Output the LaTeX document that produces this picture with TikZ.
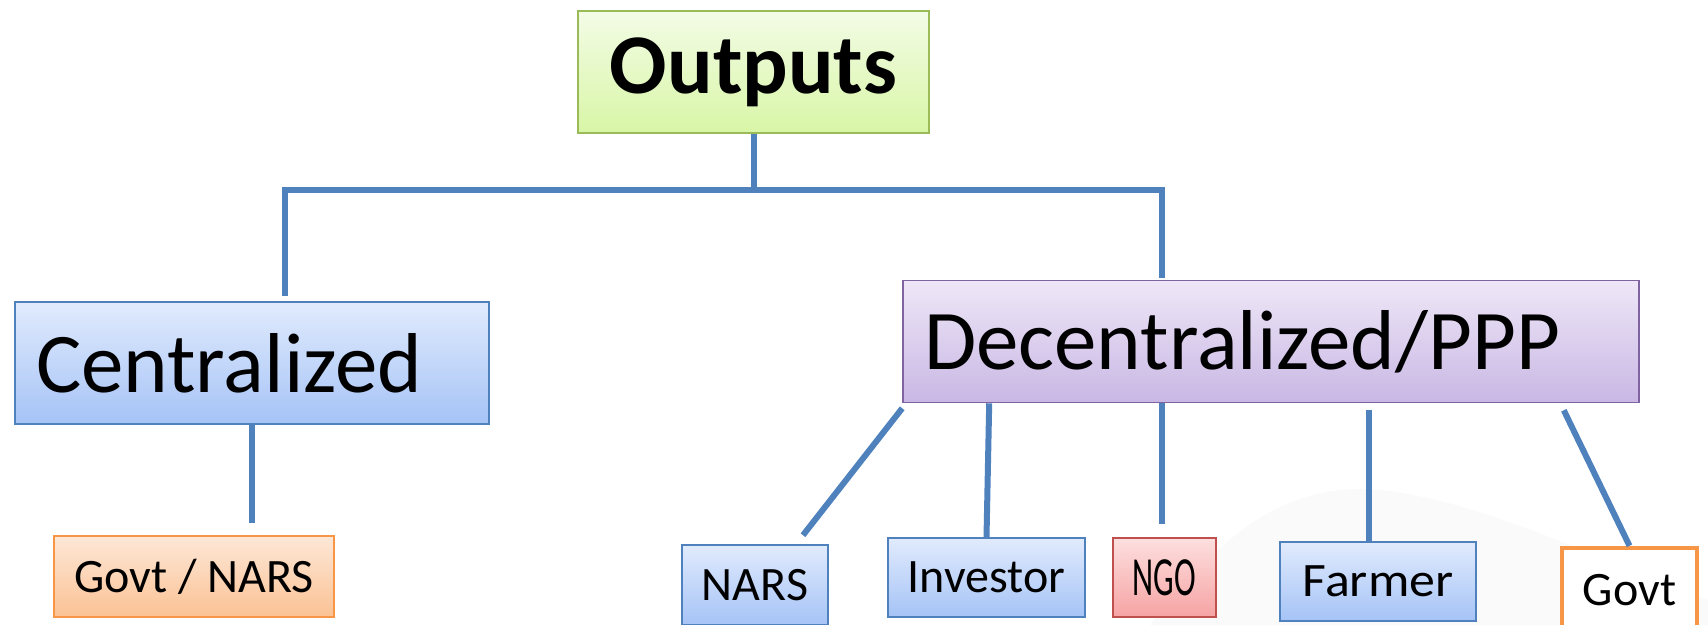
\documentclass[tikz,border=0pt]{standalone}
\usepackage{fontspec}
\setmainfont{Carlito}

\definecolor{linkblue}{HTML}{4F81BD}
\definecolor{greenedge}{HTML}{9BBB59}
\definecolor{purpleedge}{HTML}{8064A2}
\definecolor{orangeedge}{HTML}{F79646}
\definecolor{rededge}{HTML}{C0504D}
\definecolor{greentop}{HTML}{F3FCE6}
\definecolor{greenbot}{HTML}{D8F6A6}
\definecolor{bluetop}{HTML}{E1EBFD}
\definecolor{bluebot}{HTML}{A5C3F6}
\definecolor{purpletop}{HTML}{EEE7F7}
\definecolor{purplebot}{HTML}{C9B7E4}
\definecolor{orangetop}{HTML}{FDE7D7}
\definecolor{orangebot}{HTML}{FBC294}
\definecolor{redtop}{HTML}{FDDFDF}
\definecolor{redbot}{HTML}{F6A3A3}

\tikzset{
  link/.style={draw=linkblue,line width=3pt},
  bigbox/.style={draw,line width=0.8pt,inner ysep=0pt,inner xsep=10.5pt,
    minimum height=61pt,align=left,font=\fontsize{42.5}{46}\selectfont},
  smallbox/.style={draw,line width=0.8pt,inner sep=0pt,
    font=\fontsize{24}{26}\selectfont},
  bluefill/.style={draw=linkblue,top color=bluetop,bottom color=bluebot},
}

\begin{document}
\begin{tikzpicture}[x=0.5pt,y=-0.5pt]
\useasboundingbox (0,0) rectangle (1708,625);

% faint backdrop behind the bottom row
\fill[black!2] (1150,625) .. controls (1230,520) and (1300,482) .. (1380,490)
  .. controls (1480,500) and (1600,560) .. (1708,600) -- (1708,625) -- cycle;

% OUTPUTS
\node[draw=greenedge,line width=0.8pt,top color=greentop,bottom color=greenbot,
  minimum width=175.5pt,minimum height=61pt,inner sep=0pt,
  font=\fontsize{42.5}{46}\selectfont\bfseries] (out) at (753.5,72) {Outputs};

% CENTRALIZED
\node[bigbox,bluefill,text width=216pt] (cen) at (252,363) {Centralized};
\node[smallbox,draw=orangeedge,top color=orangetop,bottom color=orangebot,
  minimum width=140pt,minimum height=40.5pt] (gn) at (194,576.5) {Govt / NARS};

% DECENTRALIZED
\node[bigbox,draw=purpleedge,top color=purpletop,bottom color=purplebot,
  text width=347pt] (dec) at (1271,341.5) {Decentralized/PPP};
\node[smallbox,bluefill,minimum width=73pt,minimum height=40pt] (nars) at (755,585) {NARS};
\node[smallbox,bluefill,minimum width=98.5pt,minimum height=39.5pt] (inv) at (986.5,577.5) {Investor};
\node[smallbox,draw=rededge,top color=redtop,bottom color=redbot,
  minimum width=51.5pt,minimum height=39.5pt] (ngo) at (1164.5,577.5) {\scalebox{0.68}[1.15]{NGO}};
\node[smallbox,bluefill,minimum width=98pt,minimum height=39.5pt] (far) at (1378,581.5) {\scalebox{1.08}[1]{Farmer}};
\node[smallbox,draw=orangeedge,line width=2.2pt,fill=white,
  minimum width=67.5pt,minimum height=42pt] (gov) at (1629.5,590) {Govt};

% TREE LINKS
\coordinate (hl) at (285,190);
\coordinate (hr) at (1162,190);
\draw[link] (out.south) -- (out.south |- hl);
\draw[link,shorten <=2.5pt,shorten >=1pt] (hl |- cen.north) -- (hl) -- (hr) -- (hr |- dec.north);
\draw[link,shorten >=6pt] (cen.south) -- (cen.south |- gn.north);

\coordinate (fartop) at ([xshift=-4.5pt]far.north);
\draw[link] ([yshift=-2.5pt]dec.south west) -- ([xshift=24pt,yshift=4.5pt]nars.north);
\draw[link] ([xshift=43.5pt]dec.south west) -- (inv.north);
\draw[link,shorten >=6.5pt] (hr |- dec.south) -- (hr |- ngo.north);
\draw[link,shorten <=3.5pt] (fartop |- dec.south) -- (fartop);
\draw[link] ([xshift=-38pt,yshift=-3.5pt]dec.south east) -- (gov.north);

\end{tikzpicture}
\end{document}
